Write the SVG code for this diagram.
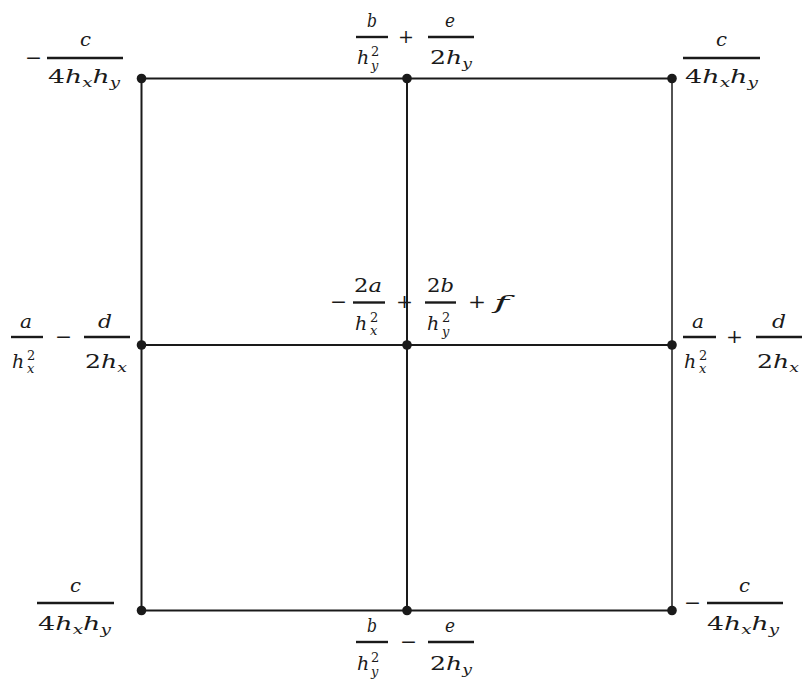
<svg xmlns="http://www.w3.org/2000/svg" width="803" height="684" viewBox="0 0 803 684">
<style>
.m{font-family:"DejaVu Serif","Liberation Serif",serif;font-style:italic;font-size:19px;fill:#1a1a1a}
.r{font-style:normal}
.s{font-size:13px}
.bar{stroke:#1a1a1a;stroke-width:2.4}
.ln{stroke:#1a1a1a;stroke-width:2;fill:none}
.dot{fill:#1a1a1a}
</style>
<g id="connectors">
<line class="ln" x1="141" y1="78.5" x2="672" y2="78.5"/>
<line class="ln" x1="141" y1="345" x2="672" y2="345"/>
<line class="ln" x1="141" y1="610.5" x2="672" y2="610.5"/>
<line class="ln" x1="141.5" y1="78.5" x2="141.5" y2="610.5"/>
<line class="ln" x1="407" y1="78.5" x2="407" y2="610.5"/>
<line class="ln" x1="672" y1="78.5" x2="672" y2="610.5" style="stroke-width:1.5"/>
</g>
<g id="n-tl">
<circle class="dot" cx="141.5" cy="78.5" r="4.8"/>
<text class="m r" x="25" y="64" textLength="17" lengthAdjust="spacingAndGlyphs">−</text>
<line class="bar" x1="47" y1="58" x2="123" y2="58"/>
<text class="m" x="80" y="46" textLength="11" lengthAdjust="spacingAndGlyphs">c</text>
<text class="m" x="48" y="83" textLength="72" lengthAdjust="spacingAndGlyphs"><tspan class="r">4</tspan>h<tspan class="s" dy="4">x</tspan><tspan dy="-4">h</tspan><tspan class="s" dy="4">y</tspan></text>
</g>
<g id="n-tm">
<circle class="dot" cx="407" cy="78.5" r="4.8"/>
<line class="bar" x1="356" y1="37" x2="388" y2="37"/>
<text class="m" x="367" y="27" textLength="10" lengthAdjust="spacingAndGlyphs">b</text>
<text class="m" x="357" y="64">h<tspan class="s r" x="371" dy="-8">2</tspan><tspan class="s" x="371" dy="14">y</tspan></text>
<text class="m r" x="398" y="43" textLength="16" lengthAdjust="spacingAndGlyphs">+</text>
<line class="bar" x1="428" y1="37" x2="474" y2="37"/>
<text class="m" x="445" y="27" textLength="10" lengthAdjust="spacingAndGlyphs">e</text>
<text class="m" x="430" y="64" textLength="42" lengthAdjust="spacingAndGlyphs"><tspan class="r">2</tspan>h<tspan class="s" dy="4">y</tspan></text>
</g>
<g id="n-tr">
<circle class="dot" cx="672" cy="78.5" r="4.8"/>
<line class="bar" x1="683" y1="58" x2="760" y2="58"/>
<text class="m" x="716" y="46" textLength="11" lengthAdjust="spacingAndGlyphs">c</text>
<text class="m" x="685" y="83" textLength="73" lengthAdjust="spacingAndGlyphs"><tspan class="r">4</tspan>h<tspan class="s" dy="4">x</tspan><tspan dy="-4">h</tspan><tspan class="s" dy="4">y</tspan></text>
</g>
<g id="n-ml">
<circle class="dot" cx="141.5" cy="345" r="4.8"/>
<line class="bar" x1="11" y1="337" x2="43" y2="337"/>
<text class="m" x="20" y="328" textLength="12" lengthAdjust="spacingAndGlyphs">a</text>
<text class="m" x="12" y="368">h<tspan class="s r" x="27" dy="-8">2</tspan><tspan class="s" x="27" dy="13">x</tspan></text>
<text class="m r" x="55" y="343" textLength="17" lengthAdjust="spacingAndGlyphs">−</text>
<line class="bar" x1="84" y1="337" x2="130" y2="337"/>
<text class="m" x="98" y="328" textLength="14" lengthAdjust="spacingAndGlyphs">d</text>
<text class="m" x="85" y="368" textLength="42" lengthAdjust="spacingAndGlyphs"><tspan class="r">2</tspan>h<tspan class="s" dy="4">x</tspan></text>
</g>
<g id="n-c">
<circle class="dot" cx="407" cy="345" r="4.8"/>
<text class="m r" x="330" y="308" textLength="17" lengthAdjust="spacingAndGlyphs">−</text>
<line class="bar" x1="353" y1="302.5" x2="385" y2="302.5"/>
<text class="m" x="354" y="292" textLength="28" lengthAdjust="spacingAndGlyphs"><tspan class="r">2</tspan>a</text>
<text class="m" x="355" y="330">h<tspan class="s r" x="370" dy="-8">2</tspan><tspan class="s" x="370" dy="13">x</tspan></text>
<text class="m r" x="396" y="308" textLength="17" lengthAdjust="spacingAndGlyphs">+</text>
<line class="bar" x1="425" y1="302.5" x2="456" y2="302.5"/>
<text class="m" x="427" y="292" textLength="27" lengthAdjust="spacingAndGlyphs"><tspan class="r">2</tspan>b</text>
<text class="m" x="427" y="330">h<tspan class="s r" x="442" dy="-8">2</tspan><tspan class="s" x="442" dy="14">y</tspan></text>
<text class="m r" x="468" y="308" textLength="18" lengthAdjust="spacingAndGlyphs">+</text>
<text class="m" x="494" y="309" textLength="15" lengthAdjust="spacingAndGlyphs">f</text>
</g>
<g id="n-mr">
<circle class="dot" cx="672" cy="345" r="4.8"/>
<line class="bar" x1="683" y1="337" x2="716" y2="337"/>
<text class="m" x="692" y="328" textLength="12" lengthAdjust="spacingAndGlyphs">a</text>
<text class="m" x="684" y="368">h<tspan class="s r" x="699" dy="-8">2</tspan><tspan class="s" x="699" dy="13">x</tspan></text>
<text class="m r" x="726" y="343" textLength="17" lengthAdjust="spacingAndGlyphs">+</text>
<line class="bar" x1="756" y1="337" x2="802" y2="337"/>
<text class="m" x="772" y="328" textLength="14" lengthAdjust="spacingAndGlyphs">d</text>
<text class="m" x="757" y="368" textLength="42" lengthAdjust="spacingAndGlyphs"><tspan class="r">2</tspan>h<tspan class="s" dy="4">x</tspan></text>
</g>
<g id="n-bl">
<circle class="dot" cx="141.5" cy="610.5" r="4.8"/>
<line class="bar" x1="37" y1="603" x2="114" y2="603"/>
<text class="m" x="70" y="592" textLength="11" lengthAdjust="spacingAndGlyphs">c</text>
<text class="m" x="38" y="630" textLength="73" lengthAdjust="spacingAndGlyphs"><tspan class="r">4</tspan>h<tspan class="s" dy="4">x</tspan><tspan dy="-4">h</tspan><tspan class="s" dy="4">y</tspan></text>
</g>
<g id="n-bm">
<circle class="dot" cx="407" cy="610.5" r="4.8"/>
<line class="bar" x1="356" y1="642" x2="388" y2="642"/>
<text class="m" x="367" y="632" textLength="10" lengthAdjust="spacingAndGlyphs">b</text>
<text class="m" x="357" y="670">h<tspan class="s r" x="371" dy="-8">2</tspan><tspan class="s" x="371" dy="14">y</tspan></text>
<text class="m r" x="400" y="648" textLength="17" lengthAdjust="spacingAndGlyphs">−</text>
<line class="bar" x1="428" y1="642" x2="474" y2="642"/>
<text class="m" x="445" y="632" textLength="10" lengthAdjust="spacingAndGlyphs">e</text>
<text class="m" x="430" y="670" textLength="42" lengthAdjust="spacingAndGlyphs"><tspan class="r">2</tspan>h<tspan class="s" dy="4">y</tspan></text>
</g>
<g id="n-br">
<circle class="dot" cx="672" cy="610.5" r="4.8"/>
<text class="m r" x="684" y="609" textLength="17" lengthAdjust="spacingAndGlyphs">−</text>
<line class="bar" x1="707" y1="603" x2="783" y2="603"/>
<text class="m" x="739" y="592" textLength="11" lengthAdjust="spacingAndGlyphs">c</text>
<text class="m" x="707" y="630" textLength="72" lengthAdjust="spacingAndGlyphs"><tspan class="r">4</tspan>h<tspan class="s" dy="4">x</tspan><tspan dy="-4">h</tspan><tspan class="s" dy="4">y</tspan></text>
</g>
</svg>
